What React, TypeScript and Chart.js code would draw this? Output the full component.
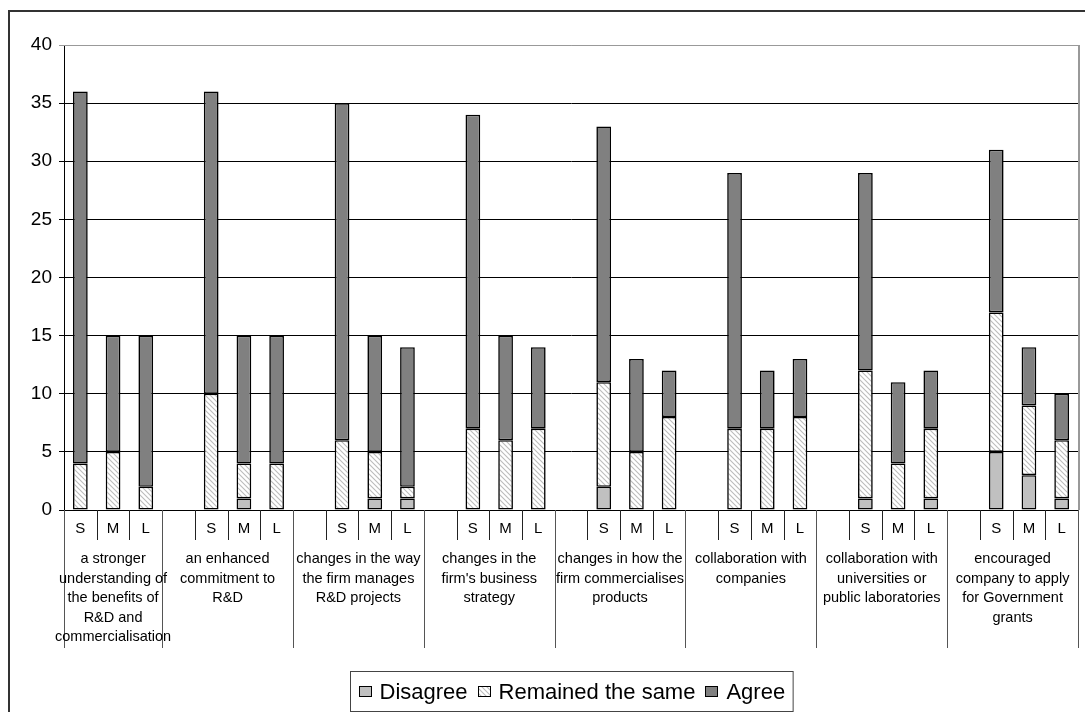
import { useEffect, useRef } from "react";
import { Chart, registerables } from "chart.js";

Chart.register(...registerables);

// Statement groups, split into the lines shown under the axis
const groupLabels: string[][] = [
  ["a stronger", "understanding of", "the benefits of", "R&D and", "commercialisation"],
  ["an enhanced", "commitment to", "R&D"],
  ["changes in the way", "the firm manages", "R&D projects"],
  ["changes in the", "firm's business", "strategy"],
  ["changes in how the", "firm commercialises", "products"],
  ["collaboration with", "companies"],
  ["collaboration with", "universities or", "public laboratories"],
  ["encouraged", "company to apply", "for Government", "grants"],
];

// Firm sizes within each group
const sizeLabels = ["S", "M", "L"];

// Responses per group, in S, M, L order
const disagree = [0, 0, 0, 0, 1, 0, 0, 1, 1, 0, 0, 0, 2, 0, 0, 0, 0, 0, 1, 0, 1, 5, 3, 1];
const remained = [4, 5, 2, 10, 3, 4, 6, 4, 1, 7, 6, 7, 9, 5, 8, 7, 7, 8, 11, 4, 6, 12, 6, 5];
const agree = [32, 10, 13, 26, 11, 11, 29, 10, 12, 27, 9, 7, 22, 8, 4, 22, 5, 5, 17, 7, 5, 14, 5, 4];

const seriesNames = ["Disagree", "Remained the same", "Agree"];

const yMin = 0;
const yMax = 40;
const yStep = 5;

const FONT = '"Liberation Sans", Arial, sans-serif';

// Build the category slots: every group after the first gets a leading empty slot
const slots: string[] = [];
const groupEdges: number[] = [0];
const dData: (number | null)[] = [];
const rData: (number | null)[] = [];
const aData: (number | null)[] = [];
groupLabels.forEach((_, g) => {
  if (g > 0) {
    slots.push("");
    dData.push(null);
    rData.push(null);
    aData.push(null);
  }
  sizeLabels.forEach((s, k) => {
    const i = g * sizeLabels.length + k;
    slots.push(s);
    dData.push(disagree[i] || null);
    rData.push(remained[i] || null);
    aData.push(agree[i] || null);
  });
  groupEdges.push(slots.length);
});

function makeHatch(): CanvasPattern | string {
  const c = document.createElement("canvas");
  c.width = 5;
  c.height = 5;
  const g = c.getContext("2d");
  if (!g) return "#fff";
  g.fillStyle = "#fff";
  g.fillRect(0, 0, 5, 5);
  g.strokeStyle = "#bcbcbc";
  g.lineWidth = 1.1;
  g.beginPath();
  g.moveTo(-1, -1);
  g.lineTo(6, 6);
  g.moveTo(-1, 4);
  g.lineTo(1, 6);
  g.moveTo(4, -1);
  g.lineTo(6, 1);
  g.stroke();
  return g.createPattern(c, "repeat") || "#fff";
}

// Draws the frame, the two-level category axis and the boxed legend
const decorations = {
  id: "decorations",
  afterDraw(chart: any) {
    const { ctx, chartArea: a, scales } = chart;
    const xs = scales.x;
    const step = xs.getPixelForValue(1) - xs.getPixelForValue(0);
    const edge = (i: number) => xs.getPixelForValue(0) - step / 2 + i * step;

    ctx.save();

    // outer frame
    ctx.strokeStyle = "#333";
    ctx.lineWidth = 2;
    ctx.beginPath();
    ctx.moveTo(8, 11);
    ctx.lineTo(chart.width + 2, 11);
    ctx.moveTo(9, 10);
    ctx.lineTo(9, chart.height + 2);
    ctx.stroke();

    // plot area border (top and right)
    ctx.strokeStyle = "#999";
    ctx.lineWidth = 1;
    ctx.beginPath();
    ctx.moveTo(a.left, Math.round(a.top) + 0.5);
    ctx.lineTo(a.right + 1, Math.round(a.top) + 0.5);
    ctx.stroke();
    ctx.lineWidth = 2;
    ctx.beginPath();
    ctx.moveTo(Math.round(a.right) + 1, a.top);
    ctx.lineTo(Math.round(a.right) + 1, a.bottom);
    ctx.stroke();

    // separators between size slots
    const base = Math.round(a.bottom);
    ctx.strokeStyle = "#222";
    ctx.lineWidth = 1;
    ctx.beginPath();
    for (let i = 0; i <= slots.length; i++) {
      const px = Math.round(edge(i)) + 0.5;
      ctx.moveTo(px, base);
      ctx.lineTo(px, base + 30);
    }
    ctx.stroke();

    // separators between groups
    ctx.strokeStyle = "#555";
    ctx.beginPath();
    groupEdges.forEach((gi) => {
      const px = Math.round(edge(gi)) + 0.5;
      ctx.moveTo(px, base);
      ctx.lineTo(px, base + 138);
    });
    ctx.stroke();

    // group labels
    ctx.fillStyle = "#000";
    ctx.font = `14.5px ${FONT}`;
    ctx.textAlign = "center";
    ctx.textBaseline = "middle";
    groupLabels.forEach((lines, g) => {
      const cx = (edge(groupEdges[g]) + edge(groupEdges[g + 1])) / 2;
      lines.forEach((ln, k) => {
        ctx.fillText(ln, cx, base + 49 + k * 19.5);
      });
    });

    // legend
    const fills = chart.data.datasets.map((d: any) => d.backgroundColor);
    ctx.font = `22px ${FONT}`;
    const sw = 13;
    const gapIn = 8;
    const gapOut = 10;
    const pad = 8;
    const widths = seriesNames.map((n) => ctx.measureText(n).width);
    const content =
      widths.reduce((s, w) => s + w, 0) + seriesNames.length * (sw + gapIn) + (seriesNames.length - 1) * gapOut;
    const boxW = content + pad * 2;
    const boxL = Math.round((a.left + a.right) / 2 - boxW / 2) + 0.5;
    const boxT = 671.5;
    const boxH = 40;
    ctx.fillStyle = "#fff";
    ctx.fillRect(boxL, boxT, boxW, boxH);
    ctx.strokeStyle = "#444";
    ctx.lineWidth = 1;
    ctx.strokeRect(boxL, boxT, boxW, boxH);
    let cx = boxL + pad;
    const cy = boxT + boxH / 2;
    ctx.textAlign = "left";
    seriesNames.forEach((n, i) => {
      ctx.fillStyle = fills[i];
      ctx.fillRect(Math.round(cx), Math.round(cy - 5.5), sw, 11);
      ctx.strokeStyle = "#000";
      ctx.strokeRect(Math.round(cx) + 0.5, Math.round(cy - 5.5) + 0.5, sw - 1, 10);
      cx += sw + gapIn;
      ctx.fillStyle = "#000";
      ctx.fillText(n, cx, cy + 1);
      cx += widths[i] + gapOut;
    });

    ctx.restore();
  },
};

export default function App() {
  const ref = useRef<HTMLCanvasElement>(null);

  useEffect(() => {
    if (!ref.current) return;
    const hatch = makeHatch();
    const common = {
      borderColor: "#000",
      borderWidth: 1.6,
      borderSkipped: false as const,
      barPercentage: 0.45,
      categoryPercentage: 1,
    };
    const chart = new Chart(ref.current, {
      type: "bar",
      data: {
        labels: slots,
        datasets: [
          { label: seriesNames[0], data: dData, backgroundColor: "#c0c0c0", ...common },
          { label: seriesNames[1], data: rData, backgroundColor: hatch as any, ...common },
          { label: seriesNames[2], data: aData, backgroundColor: "#808080", ...common },
        ],
      },
      options: {
        responsive: false,
        animation: false,
        layout: { padding: { left: 0, right: 7, top: 45, bottom: 0 } },
        plugins: {
          legend: { display: false },
          tooltip: { enabled: false },
        },
        scales: {
          x: {
            stacked: true,
            grid: { display: false },
            border: { display: true, color: "#000", width: 1 },
            ticks: {
              autoSkip: false,
              maxRotation: 0,
              padding: 2,
              color: "#000",
              font: { family: FONT, size: 15 },
            },
            afterFit: (s: any) => {
              s.height = 202;
            },
          },
          y: {
            stacked: true,
            min: yMin,
            max: yMax,
            ticks: {
              stepSize: yStep,
              padding: 7,
              color: "#000",
              font: { family: FONT, size: 19 },
            },
            grid: {
              color: (c: any) => (c.tick && c.tick.value === yMax ? "#999" : "#000"),
              tickLength: 5,
              lineWidth: 1,
            },
            border: { display: true, color: "#000", width: 1 },
            afterFit: (s: any) => {
              s.width = 64;
            },
          },
        },
      },
      plugins: [decorations],
    });
    return () => chart.destroy();
  }, []);

  return (
    <div style={{ position: "fixed", left: 0, top: 0, width: 1085, height: 712, background: "#fff" }}>
      <canvas ref={ref} width={1085} height={712} style={{ display: "block" }} />
    </div>
  );
}
